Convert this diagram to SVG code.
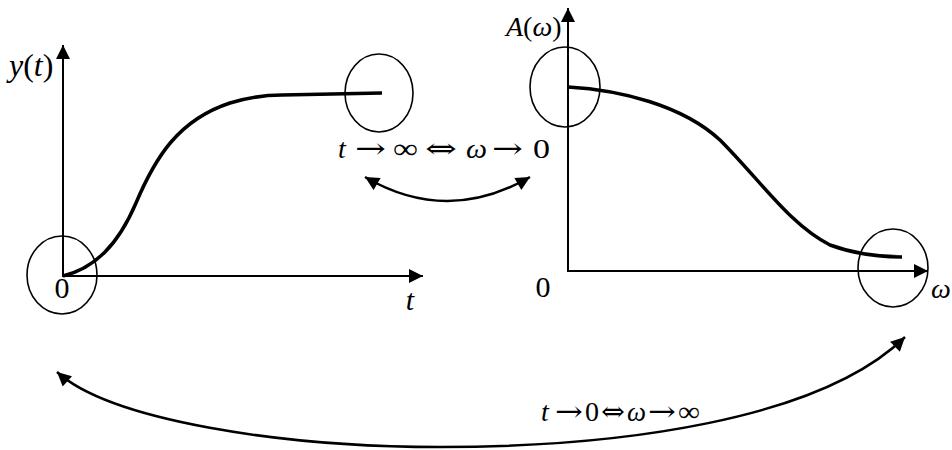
<svg xmlns="http://www.w3.org/2000/svg" width="952" height="450" viewBox="0 0 952 450">
<defs>
<marker id="ah" viewBox="0 0 10 10" refX="10" refY="5" markerUnits="userSpaceOnUse" markerWidth="16" markerHeight="14" orient="auto-start-reverse">
<path d="M0,0 L10,5 L0,10 z" fill="#000"/>
</marker>
</defs>
<style>
.ax{fill:none;stroke:#000;stroke-width:2}
.cv{fill:none;stroke:#000;stroke-width:3.5}
.el{fill:none;stroke:#000;stroke-width:1.6}
.arc{fill:none;stroke:#000;stroke-width:2.5}
text{font-family:"Liberation Serif","DejaVu Serif",serif;fill:#000}
.i{font-style:italic}
.sym{font-family:"DejaVu Serif","Liberation Serif",serif}
</style>
<rect width="952" height="450" fill="#fff"/>
<g id="left-graph">
<line class="ax" x1="63" y1="277" x2="63" y2="45" marker-end="url(#ah)"/>
<line class="ax" x1="62" y1="276" x2="423" y2="276" marker-end="url(#ah)"/>
<path class="cv" d="M63,276 C95,268 118,245 136,203 C155,158 178,120 230,103 C250,97 265,95 282,95 L382,93"/>
<ellipse class="el" cx="62" cy="275" rx="35" ry="39"/>
<ellipse class="el" cx="379" cy="93" rx="34" ry="39"/>
<text x="9" y="76" font-size="32"><tspan class="i">y</tspan>(<tspan class="i">t</tspan>)</text>
<text x="62" y="298" font-size="30" text-anchor="middle">0</text>
<text x="410" y="310" font-size="30" class="i" text-anchor="middle">t</text>
</g>
<g id="right-graph">
<line class="ax" x1="568" y1="272" x2="568" y2="8" marker-end="url(#ah)"/>
<line class="ax" x1="567" y1="271" x2="928" y2="271" marker-end="url(#ah)"/>
<path class="cv" d="M568,87 C620,90 682,105 720,140 C760,180 790,225 830,245 C860,256 885,257 902,257"/>
<ellipse class="el" cx="565" cy="87" rx="35" ry="40"/>
<ellipse class="el" cx="893" cy="268" rx="35" ry="39"/>
<text x="506" y="36" font-size="28"><tspan class="i">A</tspan>(<tspan class="i">ω</tspan>)</text>
<text x="543" y="297" font-size="30" text-anchor="middle">0</text>
<text x="931" y="298" font-size="28" class="i">ω</text>
</g>
<g id="connectors">
<path class="arc" d="M365,177 Q447,225 530,177" marker-start="url(#ah)" marker-end="url(#ah)"/>
<path class="arc" d="M57,372 C110,420 280,447 440,447 C620,447 820,420 905,337" marker-start="url(#ah)" marker-end="url(#ah)"/>
</g>
<g id="labels">
<text x="338" y="158" font-size="28" class="i">t</text>
<text x="355" y="158" font-size="28" class="sym" textLength="31" lengthAdjust="spacingAndGlyphs">→</text>
<text x="393" y="158" font-size="28" textLength="25" lengthAdjust="spacingAndGlyphs">∞</text>
<text x="425" y="158" font-size="28" class="sym" textLength="32" lengthAdjust="spacingAndGlyphs">⇔</text>
<text x="466" y="158" font-size="28" class="i" textLength="21" lengthAdjust="spacingAndGlyphs">ω</text>
<text x="492" y="158" font-size="28" class="sym" textLength="31" lengthAdjust="spacingAndGlyphs">→</text>
<text x="533" y="158" font-size="28" textLength="17" lengthAdjust="spacingAndGlyphs">0</text>
<text x="541" y="421" font-size="28" class="i">t</text>
<text x="555" y="421" font-size="28" class="sym" textLength="28" lengthAdjust="spacingAndGlyphs">→</text>
<text x="585" y="421" font-size="28">0</text>
<text x="601" y="421" font-size="28" class="sym" textLength="24" lengthAdjust="spacingAndGlyphs">⇔</text>
<text x="627" y="421" font-size="28" class="i" textLength="19" lengthAdjust="spacingAndGlyphs">ω</text>
<text x="648" y="421" font-size="28" class="sym" textLength="28" lengthAdjust="spacingAndGlyphs">→</text>
<text x="678" y="421" font-size="28" textLength="22" lengthAdjust="spacingAndGlyphs">∞</text>
</g>
</svg>
